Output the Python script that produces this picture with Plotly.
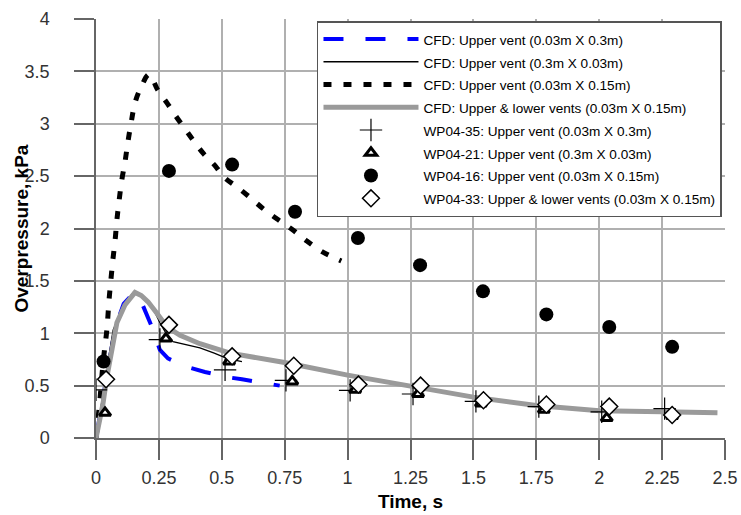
import plotly.graph_objects as go

# CFD curves
cfd_a_t = [0, 0.02, 0.045, 0.065, 0.083, 0.11, 0.148, 0.175, 0.2, 0.222, 0.254, 0.286, 0.33, 0.374, 0.433, 0.525, 0.58, 0.68, 0.73]
cfd_a_p = [0, 0.3, 0.62, 0.9, 1.1, 1.28, 1.38, 1.33, 1.19, 1.06, 0.84, 0.76, 0.71, 0.67, 0.63, 0.58, 0.56, 0.52, 0.50]

cfd_b_t = [0, 0.02, 0.04, 0.068, 0.095, 0.12, 0.148, 0.175, 0.2, 0.22, 0.254, 0.278, 0.306, 0.36, 0.413, 0.47, 0.52, 0.58]
cfd_b_p = [0, 0.3, 0.62, 1.03, 1.19, 1.3, 1.39, 1.36, 1.32, 1.27, 1.10, 1.0, 0.92, 0.89, 0.86, 0.81, 0.76, 0.73]

cfd_c_t = [0, 0.015, 0.029, 0.043, 0.052, 0.06, 0.067, 0.076, 0.083, 0.091, 0.103, 0.115, 0.127, 0.139, 0.155, 0.179, 0.211,
           0.246, 0.282, 0.318, 0.354, 0.39, 0.429, 0.473, 0.509, 0.564, 0.62, 0.664, 0.72, 0.78, 0.838, 0.898, 0.975]
cfd_c_p = [0, 0.35, 0.74, 1.03, 1.32, 1.53, 1.70, 1.89, 2.08, 2.25, 2.47, 2.63, 2.83, 3.0, 3.2, 3.35, 3.47,
           3.32, 3.2, 3.07, 2.95, 2.83, 2.71, 2.6, 2.49, 2.39, 2.28, 2.19, 2.09, 1.99, 1.88, 1.78, 1.69]

cfd_d_t = [0, 0.028, 0.043, 0.063, 0.083, 0.115, 0.155, 0.18, 0.207, 0.242, 0.282, 0.334, 0.413, 0.533, 0.75, 1.0, 1.25, 1.5, 1.75, 2.0, 2.25, 2.47]
cfd_d_p = [0, 0.33, 0.58, 0.84, 1.1, 1.27, 1.39, 1.36, 1.30, 1.19, 1.06, 0.98, 0.90, 0.81, 0.72, 0.60, 0.49, 0.39, 0.31, 0.26, 0.25, 0.24]

# Experiments
wp35_t = [0.0, 0.254, 0.513, 0.755, 1.01, 1.26, 1.51, 1.76, 2.01, 2.26]
wp35_p = [0.46, 0.94, 0.65, 0.55, 0.455, 0.42, 0.35, 0.30, 0.25, 0.28]

wp21_t = [0.036, 0.278, 0.529, 0.78, 1.03, 1.28, 1.53, 1.78, 2.03, 2.29]
wp21_p = [0.24, 0.95, 0.73, 0.54, 0.46, 0.42, 0.33, 0.27, 0.19, 0.21]

wp16_t = [0.03, 0.29, 0.541, 0.791, 1.041, 1.288, 1.538, 1.79, 2.04, 2.29]
wp16_p = [0.73, 2.55, 2.61, 2.16, 1.91, 1.65, 1.40, 1.18, 1.06, 0.87]

wp33_t = [0.04, 0.29, 0.541, 0.786, 1.043, 1.29, 1.54, 1.79, 2.04, 2.29]
wp33_p = [0.56, 1.08, 0.78, 0.69, 0.51, 0.50, 0.36, 0.32, 0.30, 0.22]

names = [
    "CFD: Upper vent (0.03m X 0.3m)",
    "CFD: Upper vent (0.3m X 0.03m)",
    "CFD: Upper vent (0.03m X 0.15m)",
    "CFD: Upper & lower vents (0.03m X 0.15m)",
    "WP04-35: Upper vent (0.03m X 0.3m)",
    "WP04-21: Upper vent (0.3m X 0.03m)",
    "WP04-16: Upper vent (0.03m X 0.15m)",
    "WP04-33: Upper & lower vents (0.03m X 0.15m)",
]

x_ticks = [0, 0.25, 0.5, 0.75, 1, 1.25, 1.5, 1.75, 2, 2.25, 2.5]
x_labels = ["0", "0.25", "0.5", "0.75", "1", "1.25", "1.5", "1.75", "2", "2.25", "2.5"]
y_ticks = [0, 0.5, 1, 1.5, 2, 2.5, 3, 3.5, 4]
y_labels = ["0", "0.5", "1", "1.5", "2", "2.5", "3", "3.5", "4"]


def lg(name):
    # legend label drawn a bit smaller than the legend row height
    return '<span style="font-size:13.6px">' + name.replace("&", "&amp;") + "</span>"


fig = go.Figure()
fig.add_trace(go.Scatter(x=cfd_a_t, y=cfd_a_p, mode="lines", name=lg(names[0]),
                         line=dict(color="#0000ff", width=4, dash="20px,22px")))
fig.add_trace(go.Scatter(x=cfd_b_t, y=cfd_b_p, mode="lines", name=lg(names[1]),
                         line=dict(color="black", width=1.3)))
fig.add_trace(go.Scatter(x=cfd_c_t, y=cfd_c_p, mode="lines", name=lg(names[2]),
                         line=dict(color="black", width=5, dash="8px,12px", shape="spline")))
fig.add_trace(go.Scatter(x=cfd_d_t, y=cfd_d_p, mode="lines", name=lg(names[3]),
                         line=dict(color="#9a9a9a", width=5)))
fig.add_trace(go.Scatter(x=wp35_t, y=wp35_p, mode="markers", name=lg(names[4]),
                         marker=dict(symbol="cross-thin", size=16, line=dict(color="black", width=1.2))))
fig.add_trace(go.Scatter(x=wp21_t, y=wp21_p, mode="markers", name=lg(names[5]),
                         marker=dict(symbol="triangle-up", size=10, color="white", line=dict(color="black", width=3))))
fig.add_trace(go.Scatter(x=wp16_t, y=wp16_p, mode="markers", name=lg(names[6]),
                         marker=dict(symbol="circle", size=14, color="black", line=dict(width=0))))
fig.add_trace(go.Scatter(x=wp33_t, y=wp33_p, mode="markers", name=lg(names[7]),
                         marker=dict(symbol="diamond", size=13, color="white", line=dict(color="black", width=1.5))))

fig.update_layout(
    width=741, height=515, autosize=False,
    margin=dict(l=96, r=16, t=19, b=77),
    paper_bgcolor="white", plot_bgcolor="white",
    font=dict(family="Liberation Sans, Arial, sans-serif", color="#333333"),
    showlegend=True,
    legend=dict(
        x=0.9952, y=0.995, xanchor="right", yanchor="top",
        bgcolor="white", bordercolor="#555555", borderwidth=1.5,
        font=dict(family="Liberation Sans, Arial, sans-serif", size=15.2, color="black"),
        itemwidth=95, tracegroupgap=0,
    ),
    xaxis=dict(
        range=[0, 2.5], tickmode="array", tickvals=x_ticks, ticktext=x_labels,
        automargin=False,
        showgrid=True, gridcolor="#b0b0b0", gridwidth=1.5,
        ticks="outside", ticklen=20, tickcolor="#666666", tickwidth=1.5,
        showline=True, linecolor="#666666", linewidth=1.5,
        zeroline=False, tickfont=dict(size=18, color="#333333"),
        ticklabelstandoff=3,
        title=dict(text="<b>Time, s</b>", font=dict(size=19, color="black"), standoff=7),
    ),
    yaxis=dict(
        range=[0, 4], tickmode="array", tickvals=y_ticks, ticktext=y_labels,
        automargin=False,
        showgrid=True, gridcolor="#b0b0b0", gridwidth=1.5,
        ticks="outside", ticklen=20, tickcolor="#666666", tickwidth=1.5,
        showline=True, linecolor="#666666", linewidth=1.5,
        zeroline=False, tickfont=dict(size=18, color="#333333"),
        ticklabelstandoff=21,
    ),
    annotations=[dict(
        text="<b>Overpressure, kPa</b>", xref="paper", yref="paper",
        x=-0.1192, y=0.5, xanchor="center", yanchor="middle", textangle=-90,
        showarrow=False, font=dict(size=19, color="black"),
    )],
)

fig.write_html(
    "out.html",
    config={"responsive": False, "displayModeBar": False},
    post_script=(
        "document.body.style.margin='0';document.body.style.overflow='hidden';"
        "Plotly.relayout('{plot_id}', {width: 741, height: 515});"
    ),
)
